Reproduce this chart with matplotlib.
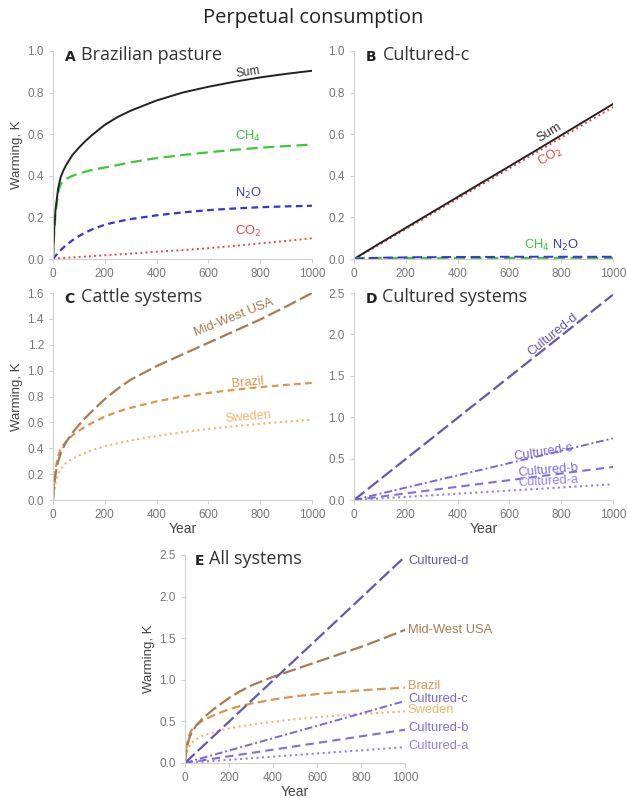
import numpy as np
import matplotlib.pyplot as plt

plt.rcParams['font.family'] = ['Liberation Sans', 'DejaVu Sans']

# ---- Datos ----
years = [0, 5, 10, 20, 30, 40, 50, 75, 100, 125, 150, 200, 250, 300, 400, 500, 600, 700, 800, 900, 1000]

# A: Brazilian pasture
A_sum = [0.0, 0.15, 0.24, 0.34, 0.395, 0.425, 0.45, 0.50, 0.535, 0.567, 0.595, 0.645, 0.683, 0.713, 0.762, 0.80, 0.828, 0.852, 0.873, 0.89, 0.905]
A_ch4 = [0.0, 0.13, 0.22, 0.32, 0.36, 0.375, 0.385, 0.40, 0.41, 0.42, 0.428, 0.44, 0.452, 0.465, 0.485, 0.50, 0.513, 0.525, 0.535, 0.543, 0.55]
A_n2o = [0.0, 0.008, 0.016, 0.03, 0.043, 0.055, 0.066, 0.09, 0.11, 0.127, 0.142, 0.165, 0.18, 0.192, 0.21, 0.224, 0.235, 0.243, 0.249, 0.253, 0.256]
A_co2 = [0.0, 0.001, 0.002, 0.003, 0.004, 0.005, 0.006, 0.008, 0.01, 0.012, 0.014, 0.018, 0.022, 0.026, 0.035, 0.043, 0.052, 0.063, 0.075, 0.087, 0.10]

# B: Cultured-c
B_sum = [0.0, 0.004, 0.008, 0.015, 0.023, 0.030, 0.038, 0.057, 0.076, 0.094, 0.113, 0.15, 0.187, 0.224, 0.298, 0.372, 0.446, 0.52, 0.595, 0.67, 0.745]
B_co2 = [0.0, 0.003, 0.007, 0.014, 0.021, 0.028, 0.035, 0.053, 0.071, 0.089, 0.108, 0.144, 0.18, 0.217, 0.29, 0.363, 0.436, 0.509, 0.583, 0.657, 0.73]
B_ch4 = [0.0, 0.002, 0.003, 0.004, 0.005, 0.005, 0.005, 0.005, 0.005, 0.005, 0.005, 0.005, 0.005, 0.005, 0.005, 0.005, 0.005, 0.005, 0.005, 0.005, 0.005]
B_n2o = [0.0, 0.0005, 0.001, 0.002, 0.003, 0.004, 0.004, 0.005, 0.006, 0.007, 0.007, 0.008, 0.009, 0.009, 0.01, 0.01, 0.011, 0.011, 0.011, 0.011, 0.011]

# C: Cattle systems
midwest = [0.0, 0.12, 0.20, 0.30, 0.36, 0.405, 0.445, 0.52, 0.58, 0.635, 0.685, 0.78, 0.86, 0.93, 1.035, 1.125, 1.215, 1.305, 1.395, 1.495, 1.60]
brazil = A_sum
sweden = [0.0, 0.08, 0.14, 0.20, 0.24, 0.265, 0.285, 0.32, 0.345, 0.365, 0.385, 0.415, 0.44, 0.46, 0.495, 0.525, 0.55, 0.57, 0.59, 0.605, 0.62]

# D: Cultured systems
cult_d = [0.0, 0.012, 0.025, 0.05, 0.074, 0.099, 0.124, 0.186, 0.248, 0.31, 0.372, 0.496, 0.62, 0.744, 0.992, 1.24, 1.488, 1.736, 1.984, 2.232, 2.48]
cult_c = B_sum
cult_b = [0.0, 0.002, 0.004, 0.008, 0.012, 0.016, 0.02, 0.03, 0.04, 0.05, 0.06, 0.08, 0.1, 0.12, 0.16, 0.2, 0.24, 0.28, 0.32, 0.36, 0.40]
cult_a = [0.0, 0.001, 0.002, 0.004, 0.006, 0.008, 0.0095, 0.014, 0.019, 0.024, 0.0285, 0.038, 0.0475, 0.057, 0.076, 0.095, 0.114, 0.133, 0.152, 0.171, 0.19]

# colores
c_sum, c_ch4, c_n2o, c_co2 = '#222222', '#3cc83c', '#3535d8', '#e8474a'
c_mw, c_br, c_sw = '#a67c52', '#d9964f', '#f0b46e'
c_d, c_c, c_b, c_a = '#6558b0', '#7868d8', '#7d6fe0', '#8f82ee'

fig = plt.figure(figsize=(6.27, 7.98), dpi=100)
axA = fig.add_axes([0.0845, 0.6754, 0.413, 0.2607])
axB = fig.add_axes([0.5646, 0.6754, 0.413, 0.2607])
axC = fig.add_axes([0.0845, 0.3734, 0.413, 0.2594])
axD = fig.add_axes([0.5646, 0.3734, 0.413, 0.2594])
axE = fig.add_axes([0.295, 0.0439, 0.351, 0.2607])

fs_lab = 9.3


def estilo(ax, ymax, ystep, letra, titulo, xlabel=False, ylabel=False):
    ax.set_xlim(0, 1000)
    ax.set_ylim(0, ymax)
    ax.set_xticks(np.arange(0, 1001, 200))
    ax.set_yticks(np.arange(0, ymax + 1e-9, ystep))
    ax.yaxis.set_major_formatter(plt.FormatStrFormatter('%.1f'))
    for s in ['top', 'right']:
        ax.spines[s].set_visible(False)
    for s in ['left', 'bottom']:
        ax.spines[s].set_color('#d0d0d0')
    ax.tick_params(colors='#d0d0d0', labelcolor='#777777', labelsize=8.5, length=3)
    if xlabel:
        ax.set_xlabel('Year', fontsize=10, color='#444444', labelpad=1)
    if ylabel:
        ax.set_ylabel('Warming, K', fontsize=9.5, color='#444444', labelpad=3)
    ax.text(0.045, 0.97, letra, transform=ax.transAxes, fontsize=10, fontweight='bold',
            color='#222222', va='center', family='DejaVu Sans')
    ax.text(0.11, 0.98, titulo, transform=ax.transAxes, fontsize=13, color='#333333',
            va='center', family='Open Sans')


# ---- A ----
axA.plot(years, A_co2, color=c_co2, linestyle=':', linewidth=1.4)
axA.plot(years, A_n2o, color=c_n2o, linestyle=(0, (3, 2)), linewidth=1.6)
axA.plot(years, A_ch4, color=c_ch4, linestyle=(0, (5, 2.5)), linewidth=1.6)
axA.plot(years, A_sum, color=c_sum, linewidth=1.4)
axA.text(753, 0.895, 'Sum', color='#333333', fontsize=8.5, rotation=8, ha='center', va='center')
axA.text(753, 0.587, 'CH$_4$', color=c_ch4, fontsize=fs_lab, ha='center', va='center')
axA.text(753, 0.317, 'N$_2$O', color=c_n2o, fontsize=fs_lab, ha='center', va='center')
axA.text(753, 0.131, 'CO$_2$', color=c_co2, fontsize=fs_lab, ha='center', va='center')
estilo(axA, 1.0, 0.2, 'A', 'Brazilian pasture', ylabel=True)

# ---- B ----
axB.plot(years, B_co2, color=c_co2, linestyle=':', linewidth=1.4)
axB.plot(years, B_sum, color=c_sum, linewidth=1.4)
axB.plot(years, B_ch4, color=c_ch4, linestyle=(0, (5, 2.5)), linewidth=1.6)
axB.plot(years, B_n2o, color=c_n2o, linestyle=(0, (5, 2.5)), linewidth=1.4)
axB.text(753, 0.61, 'Sum', color='#333333', fontsize=fs_lab, rotation=31, ha='center', va='center')
axB.text(760, 0.49, 'CO$_2$', color=c_co2, fontsize=fs_lab, rotation=31, ha='center', va='center')
axB.text(706, 0.067, 'CH$_4$', color=c_ch4, fontsize=fs_lab, ha='center', va='center')
axB.text(815, 0.067, 'N$_2$O', color=c_n2o, fontsize=fs_lab, ha='center', va='center')
estilo(axB, 1.0, 0.2, 'B', 'Cultured-c')

# ---- C ----
axC.plot(years, sweden, color=c_sw, linestyle=':', linewidth=1.5)
axC.plot(years, brazil, color=c_br, linestyle=(0, (3, 2)), linewidth=1.6)
axC.plot(years, midwest, color=c_mw, linestyle=(0, (6, 2)), linewidth=1.6)
axC.text(700, 1.41, 'Mid-West USA', color=c_mw, fontsize=fs_lab, rotation=22, ha='center', va='center')
axC.text(753, 0.91, 'Brazil', color=c_br, fontsize=fs_lab, rotation=5, ha='center', va='center')
axC.text(753, 0.64, 'Sweden', color=c_sw, fontsize=fs_lab, rotation=5, ha='center', va='center')
estilo(axC, 1.6, 0.2, 'C', 'Cattle systems', xlabel=True, ylabel=True)

# ---- D ----
axD.plot(years, cult_a, color=c_a, linestyle=':', linewidth=1.5)
axD.plot(years, cult_b, color=c_b, linestyle=(0, (4, 2.5)), linewidth=1.5)
axD.plot(years, cult_c, color=c_c, linestyle=(0, (4, 1.5, 1, 1.5)), linewidth=1.4)
axD.plot(years, cult_d, color=c_d, linestyle=(0, (6, 2)), linewidth=1.6)
axD.text(768, 2.0, 'Cultured-d', color=c_d, fontsize=fs_lab, rotation=39, ha='center', va='center')
axD.text(730, 0.58, 'Cultured-c', color=c_c, fontsize=fs_lab, rotation=9, ha='center', va='center')
axD.text(749, 0.36, 'Cultured-b', color=c_b, fontsize=fs_lab, rotation=5, ha='center', va='center')
axD.text(749, 0.22, 'Cultured-a', color=c_a, fontsize=fs_lab, rotation=3, ha='center', va='center')
estilo(axD, 2.5, 0.5, 'D', 'Cultured systems', xlabel=True)

# ---- E ----
axE.plot(years, sweden, color=c_sw, linestyle=':', linewidth=1.5)
axE.plot(years, cult_a, color=c_a, linestyle=':', linewidth=1.5)
axE.plot(years, cult_b, color=c_b, linestyle=(0, (4, 2.5)), linewidth=1.5)
axE.plot(years, cult_c, color=c_c, linestyle=(0, (4, 1.5, 1, 1.5)), linewidth=1.4)
axE.plot(years, brazil, color=c_br, linestyle=(0, (4, 2)), linewidth=1.6)
axE.plot(years, midwest, color=c_mw, linestyle=(0, (6, 2)), linewidth=1.6)
axE.plot(years, cult_d, color=c_d, linestyle=(0, (6, 2)), linewidth=1.6)
etiquetas_E = [('Cultured-d', 2.43, c_d), ('Mid-West USA', 1.6, c_mw), ('Brazil', 0.93, c_br),
               ('Cultured-c', 0.77, c_c), ('Sweden', 0.64, c_sw), ('Cultured-b', 0.42, c_b),
               ('Cultured-a', 0.20, c_a)]
for nombre, yv, col in etiquetas_E:
    axE.text(1013, yv, nombre, color=col, fontsize=fs_lab, va='center', clip_on=False)
estilo(axE, 2.5, 0.5, 'E', 'All systems', xlabel=True, ylabel=True)

fig.text(0.5, 0.978, 'Perpetual consumption', ha='center', va='center', fontsize=14.5,
         color='#222222', family='Open Sans')

fig.savefig('out.png', dpi=100, facecolor='white')
